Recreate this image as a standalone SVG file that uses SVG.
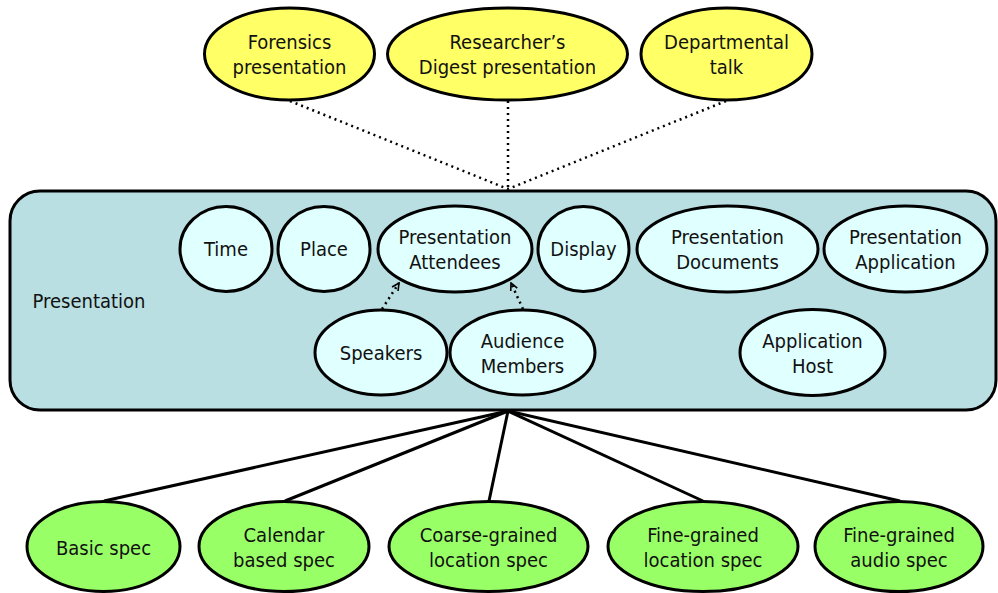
<svg xmlns="http://www.w3.org/2000/svg" width="998" height="593" viewBox="0 0 998 593">
  <style>
    .lbl { font-family: "DejaVu Sans Condensed", "DejaVu Sans", Verdana, sans-serif; font-stretch: condensed; font-size: 20px; fill: #111; text-anchor: middle; dominant-baseline: central; }
    .yellow { fill: #FFFF66; stroke: #000; stroke-width: 3; }
    .inner { fill: #E0FFFF; stroke: #000; stroke-width: 3; }
    .green { fill: #99FF66; stroke: #000; stroke-width: 3; }
    .dots { fill: none; stroke: #000; stroke-width: 2.5; stroke-dasharray: 2 4; }
    .solid { fill: none; stroke: #000; stroke-width: 3; }
  </style>
  <defs>
    <marker id="vhead" viewBox="0 0 10 10" refX="9" refY="5" markerWidth="9" markerHeight="9" markerUnits="userSpaceOnUse" orient="auto">
      <path d="M1,1 L9,5 L1,9" fill="none" stroke="#000" stroke-width="1.8"/>
    </marker>
  </defs>
  <rect width="998" height="593" fill="#fff"/>

  <!-- container -->
  <g id="presentation">
    <rect x="10" y="191" width="986" height="219" rx="30" ry="30" fill="#B9DFE3" stroke="#000" stroke-width="3"/>
    <text class="lbl" x="89" y="301">Presentation</text>
  </g>

  <!-- connectors -->
  <g id="connectors">
    <line class="dots" x1="290" y1="101" x2="508" y2="189"/>
    <line class="dots" x1="508" y1="101" x2="508" y2="189"/>
    <line class="dots" x1="726" y1="101" x2="508" y2="189"/>
    <line class="dots" x1="382" y1="309" x2="399" y2="283" marker-end="url(#vhead)"/>
    <line class="dots" x1="523" y1="309" x2="511" y2="283" marker-end="url(#vhead)"/>
    <line class="solid" x1="508" y1="411" x2="104" y2="501"/>
    <line class="solid" x1="508" y1="411" x2="285" y2="501"/>
    <line class="solid" x1="508" y1="411" x2="489" y2="501"/>
    <line class="solid" x1="508" y1="411" x2="703" y2="501"/>
    <line class="solid" x1="508" y1="411" x2="900" y2="501"/>
  </g>

  <!-- top uses -->
  <g id="forensics">
    <ellipse class="yellow" cx="289.5" cy="54" rx="85" ry="46"/>
    <text class="lbl" x="289.5" y="42">Forensics</text>
    <text class="lbl" x="289.5" y="67">presentation</text>
  </g>
  <g id="researchers-digest">
    <ellipse class="yellow" cx="507.5" cy="54" rx="120" ry="46"/>
    <text class="lbl" x="507.5" y="42">Researcher’s</text>
    <text class="lbl" x="507.5" y="67">Digest presentation</text>
  </g>
  <g id="departmental">
    <ellipse class="yellow" cx="726.5" cy="54" rx="85.5" ry="46"/>
    <text class="lbl" x="726.5" y="42">Departmental</text>
    <text class="lbl" x="726.5" y="67">talk</text>
  </g>

  <!-- presentation parts -->
  <g id="time">
    <ellipse class="inner" cx="226" cy="249" rx="46" ry="42.5"/>
    <text class="lbl" x="226" y="249">Time</text>
  </g>
  <g id="place">
    <ellipse class="inner" cx="324" cy="249" rx="46" ry="42.5"/>
    <text class="lbl" x="324" y="249">Place</text>
  </g>
  <g id="attendees">
    <ellipse class="inner" cx="455" cy="249" rx="77" ry="43"/>
    <text class="lbl" x="455" y="237">Presentation</text>
    <text class="lbl" x="455" y="262">Attendees</text>
  </g>
  <g id="display">
    <ellipse class="inner" cx="583.5" cy="249" rx="45.5" ry="42.5"/>
    <text class="lbl" x="583.5" y="249">Display</text>
  </g>
  <g id="documents">
    <ellipse class="inner" cx="727.5" cy="249" rx="90.5" ry="43"/>
    <text class="lbl" x="727.5" y="237">Presentation</text>
    <text class="lbl" x="727.5" y="262">Documents</text>
  </g>
  <g id="application">
    <ellipse class="inner" cx="905.5" cy="249" rx="81.5" ry="43"/>
    <text class="lbl" x="905.5" y="237">Presentation</text>
    <text class="lbl" x="905.5" y="262">Application</text>
  </g>
  <g id="speakers">
    <ellipse class="inner" cx="381" cy="352.5" rx="66" ry="42.5"/>
    <text class="lbl" x="381" y="352.5">Speakers</text>
  </g>
  <g id="audience">
    <ellipse class="inner" cx="522.5" cy="352.5" rx="72.5" ry="42.5"/>
    <text class="lbl" x="522.5" y="340.5">Audience</text>
    <text class="lbl" x="522.5" y="365.5">Members</text>
  </g>
  <g id="app-host">
    <ellipse class="inner" cx="812.5" cy="352.5" rx="72.5" ry="43"/>
    <text class="lbl" x="812.5" y="340.5">Application</text>
    <text class="lbl" x="812.5" y="365.5">Host</text>
  </g>

  <!-- specs -->
  <g id="basic-spec">
    <ellipse class="green" cx="103.5" cy="546.5" rx="76.5" ry="45"/>
    <text class="lbl" x="103.5" y="548">Basic spec</text>
  </g>
  <g id="calendar-spec">
    <ellipse class="green" cx="284" cy="546.5" rx="85" ry="45"/>
    <text class="lbl" x="284" y="535">Calendar</text>
    <text class="lbl" x="284" y="560">based spec</text>
  </g>
  <g id="coarse-location-spec">
    <ellipse class="green" cx="488.5" cy="546.5" rx="99.5" ry="45"/>
    <text class="lbl" x="488.5" y="535">Coarse-grained</text>
    <text class="lbl" x="488.5" y="560">location spec</text>
  </g>
  <g id="fine-location-spec">
    <ellipse class="green" cx="703" cy="546.5" rx="95" ry="45"/>
    <text class="lbl" x="703" y="535">Fine-grained</text>
    <text class="lbl" x="703" y="560">location spec</text>
  </g>
  <g id="fine-audio-spec">
    <ellipse class="green" cx="899" cy="546.5" rx="84" ry="45"/>
    <text class="lbl" x="899" y="535">Fine-grained</text>
    <text class="lbl" x="899" y="560">audio spec</text>
  </g>
</svg>
